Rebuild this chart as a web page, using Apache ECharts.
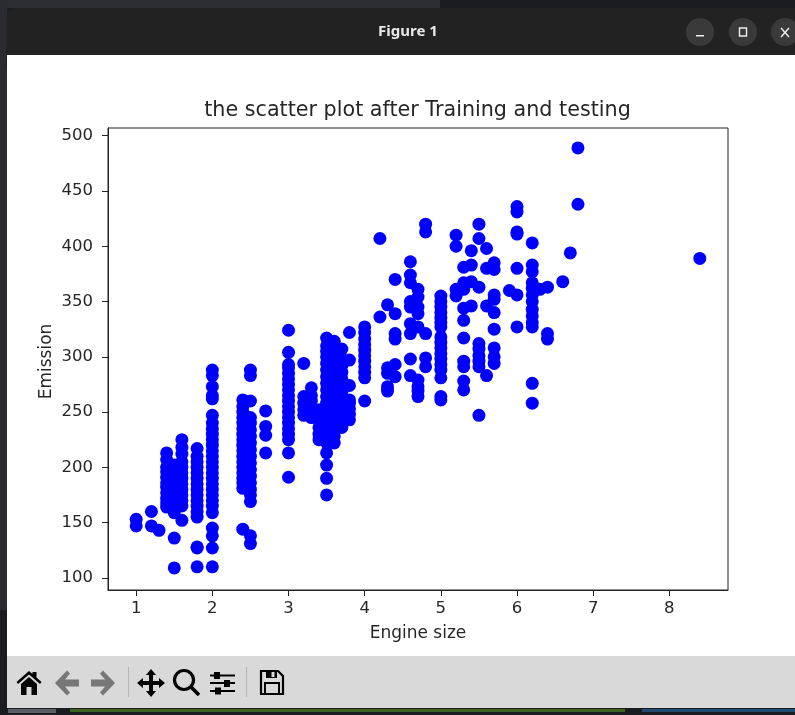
<!DOCTYPE html>
<html><head><meta charset="utf-8">
<style>html,body{margin:0;padding:0;background:#1d2026}#c{width:795px;height:715px;filter:blur(0.35px)}</style>
<script src="https://cdn.jsdelivr.net/npm/echarts@6/dist/echarts.min.js"></script>
</head><body><div id="c"></div>
<script>
const titleText = 'the scatter plot after Training and testing';
const xName = 'Engine size';
const yName = 'Emission';
const xTicks = [1,2,3,4,5,6,7,8];
const yTicks = [100,150,200,250,300,350,400,450,500];

const s10=[153,147];
const s12=[160,147];
const s13=[143];
const s14=[213,207,200,196,191,186,182,177,172,168,164];
const s15=[109,136,159,162,166,170,175,178,182,186,192,197,202];
const s16=[225,218,212,205,200,195,190,185,180,175,170,165,152];
const s18=[110,128,127,155,160,165,170,175,180,185,190,195,200,205,210,217];
const s20=[110,127,138,145,159,165,170,175,180,185,190,195,200,205,210,215,220,225,230,235,240,247,262,265,273,283,288];
const s24=[144,181,186,190,195,200,205,210,215,220,225,230,235,240,245,250,255,261];
const s25=[131,138,169,175,180,186,192,198,204,210,216,222,228,234,240,245,260,283,288];
const s27=[213,229,237,251];
const s30=[191,213,225,230,235,240,245,250,255,260,265,270,275,280,285,290,293,304,324];
const s32=[247,252,258,264,294];
const s33=[245,250,255,260,265,272];
const s34=[225,230,236,242,247,252];
const s35=[175,190,202,213,222,228,234,240,246,252,258,264,270,276,282,288,294,300,305,310,317];
const s36=[222,228,234,240,246,252,258,264,270,276,282,288,294,300,306,314];
const s37=[236,243,248,253,258,263,268,274,280,286,292,298,307];
const s38=[243,248,253,258,261,274,297,322];
const s40=[260,281,286,291,296,301,306,311,316,322,327];
const s42=[336,407];
const s43=[269,273,285,290,347];
const s44=[282,293,316,321,339,370];
const s46=[283,298,321,330,345,350,367,374,386];
const s47=[264,269,273,279,327,339,345,354,361];
const s48=[291,299,321,413,420];
const s50=[261,264,281,288,293,298,303,308,313,318,327,331,335,340,345,350,355];
const s52=[355,361,400,410];
const s53=[270,278,291,296,317,333,344,361,367,381];
const s54=[346,368,383,396];
const s55=[247,291,296,301,307,312,363,407,420];
const s56=[283,346,380,398];
const s57=[294,300,308,325,340,352,356,379,385];
const s59=[360];
const s60=[327,356,380,411,413,431,436];
const s62=[258,276,327,331,337,343,350,356,362,367,377,383,403];
const s63=[361];
const s64=[316,321,363];
const s66=[368];
const s67=[394];
const s68=[438,489];
const s84=[389];

const engineSizes=[1.0,1.2,1.3,1.4,1.5,1.6,1.8,2.0,2.4,2.5,2.7,3.0,3.2,3.3,3.4,3.5,3.6,3.7,3.8,4.0,4.2,4.3,4.4,4.6,4.7,4.8,5.0,5.2,5.3,5.4,5.5,5.6,5.7,5.9,6.0,6.2,6.3,6.4,6.6,6.7,6.8,8.4];
const emissions=[s10,s12,s13,s14,s15,s16,s18,s20,s24,s25,s27,s30,s32,s33,s34,s35,s36,s37,s38,s40,s42,s43,s44,s46,s47,s48,s50,s52,s53,s54,s55,s56,s57,s59,s60,s62,s63,s64,s66,s67,s68,s84];
const points=[];
engineSizes.forEach((x,i)=>emissions[i].forEach(y=>points.push([x,y])));

const font='"DejaVu Sans"';
const ink='#262626';
const chart=echarts.init(document.getElementById('c'),null,{renderer:'canvas'});
function poly(pts,ox,oy,fill){
  return {type:'polygon',z:10,x:ox,y:oy,shape:{points:pts},style:{fill:fill||'#000'}};
}
function box(x,y,w,h,fill){return {type:'rect',z:10,shape:{x:x,y:y,width:w,height:h},style:{fill:fill||'#000'}};}
chart.setOption({
  animation:false,
  backgroundColor:'#1a1c1f',
  graphic:{elements:[
    {type:'rect',z:-5,shape:{x:0,y:0,width:440,height:8},style:{fill:'#2b2d32'}},
    {type:'rect',z:-5,shape:{x:0,y:0,width:7,height:610},style:{fill:'#2a2c31'}},
    {type:'rect',z:-4,shape:{x:6,y:8,width:800,height:60,r:[11,11,0,0]},style:{fill:'#222222'}},
    {type:'rect',z:-3,shape:{x:7,y:55,width:788,height:601},style:{fill:'#ffffff'}},
    {type:'rect',z:-3,shape:{x:7,y:656,width:788,height:52},style:{fill:'#d9d9d9'}},
    // terminal text peeking out under the window (illegible)
    {type:'rect',z:-4,shape:{x:8,y:709,width:48,height:4},style:{fill:'#5a5f66'}},
    {type:'rect',z:-4,shape:{x:70,y:709,width:555,height:3},style:{fill:'#3c6420'}},
    {type:'rect',z:-4,shape:{x:642,y:709,width:153,height:3},style:{fill:'#1f4a72'}},
    {type:'text',z:5,style:{text:'Figure 1',x:408,y:32,align:'center',verticalAlign:'middle',fill:'#e8e8e8',font:'bold 15px "Noto Sans"'}},
    {type:'circle',z:5,shape:{cx:700,cy:32,r:14},style:{fill:'#3a3a3a'}},
    {type:'circle',z:5,shape:{cx:743,cy:32,r:14},style:{fill:'#3a3a3a'}},
    {type:'circle',z:5,shape:{cx:785,cy:32,r:14},style:{fill:'#3a3a3a'}},
    {type:'rect',z:6,shape:{x:696,y:35,width:8,height:1.5},style:{fill:'#eeeeee'}},
    {type:'rect',z:6,shape:{x:739.5,y:28,width:7,height:8},style:{fill:'none',stroke:'#eeeeee',lineWidth:1.4}},
    {type:'line',z:6,shape:{x1:781,y1:28,x2:789,y2:37},style:{stroke:'#eeeeee',lineWidth:1.4}},
    {type:'line',z:6,shape:{x1:789,y1:28,x2:781,y2:37},style:{stroke:'#eeeeee',lineWidth:1.4}},
    // toolbar separators
    box(128,667,1,30,'#b4b4b4'),
    box(246,667,1,30,'#b4b4b4'),
    // home: roof and body
    poly([[12.5,0],[16,3],[16,1],[20,1],[20,6.5],[25,11],[23.5,13],[12.5,3.5],[1.5,13],[0,11]],16.5,671),
    poly([[12.5,6],[20.5,13],[20.5,24],[15,24],[15,16],[10,16],[10,24],[4.5,24],[4.5,13]],16.5,671),
    // back / forward (greyed)
    poly([[12,0],[0,12.5],[12,25],[15,22],[10,16],[24,16],[24,9],[10,9],[15,3]],55,670.5,'#777777'),
    poly([[12,0],[24,12.5],[12,25],[9,22],[14,16],[0,16],[0,9],[14,9],[9,3]],91,670.5,'#777777'),
    // move
    poly([[14,0],[19,6],[16,6],[16,12],[22,12],[22,9],[28,14],[22,19],[22,16],[16,16],[16,22],[19,22],[14,28],[9,22],[12,22],[12,16],[6,16],[6,19],[0,14],[6,9],[6,12],[12,12],[12,6],[9,6]],137,669),
    // zoom
    {type:'circle',z:10,shape:{cx:184,cy:680,r:9.5},style:{fill:'none',stroke:'#000',lineWidth:3.2}},
    {type:'line',z:10,shape:{x1:191,y1:687,x2:199,y2:695},style:{stroke:'#000',lineWidth:3.6}},
    // sliders
    box(210,674.5,25,2), box(210,682,25,2), box(210,690,25,2),
    box(214,672,6,7), box(224,680,6,7), box(215,687.5,6,7),
    // save
    {type:'polygon',z:10,x:260,y:670,shape:{points:[[1,1],[18,1],[23,6],[23,24],[1,24]]},style:{fill:'none',stroke:'#000',lineWidth:2.2}},
    box(266,671,11,7), box(271.5,672,3,5,'#d9d9d9'),
    {type:'rect',z:10,shape:{x:265,y:683,width:14,height:11},style:{fill:'none',stroke:'#000',lineWidth:2}}
  ]},
  title:{text:titleText,left:412.5,top:95,textAlign:'center',
    textStyle:{fontFamily:font,fontSize:20.7,fontWeight:'normal',color:ink}},
  grid:{left:108,top:128,width:620,height:462,show:true,borderColor:'#222',borderWidth:1,backgroundColor:'#fff',containLabel:false},
  xAxis:{type:'value',min:0.63,max:8.77,name:xName,nameLocation:'middle',nameGap:35,
    nameTextStyle:{fontFamily:font,fontSize:17,color:ink},
    axisLine:{show:true,onZero:false,lineStyle:{color:'#222',width:1}},
    axisTick:{show:true,length:6,customValues:xTicks,lineStyle:{color:'#222',width:1}},
    axisLabel:{show:true,customValues:xTicks,margin:10,fontFamily:font,fontSize:16.5,color:ink,formatter:v=>String(v)},
    splitLine:{show:false}},
  yAxis:{type:'value',min:89,max:507,name:yName,nameLocation:'middle',nameGap:53,nameMoveOverlap:false,
    nameTextStyle:{fontFamily:font,fontSize:17,color:ink,padding:[0,5,0,0]},
    axisLine:{show:true,onZero:false,lineStyle:{color:'#222',width:1}},
    axisTick:{show:true,length:6,customValues:yTicks,lineStyle:{color:'#222',width:1}},
    axisLabel:{show:true,customValues:yTicks,margin:15,fontFamily:font,fontSize:16.5,color:ink,formatter:v=>String(v)},
    splitLine:{show:false}},
  series:[{type:'scatter',data:points,symbol:'circle',symbolSize:13,itemStyle:{color:'#0000ff',opacity:1},silent:true}]
});
</script></body></html>
